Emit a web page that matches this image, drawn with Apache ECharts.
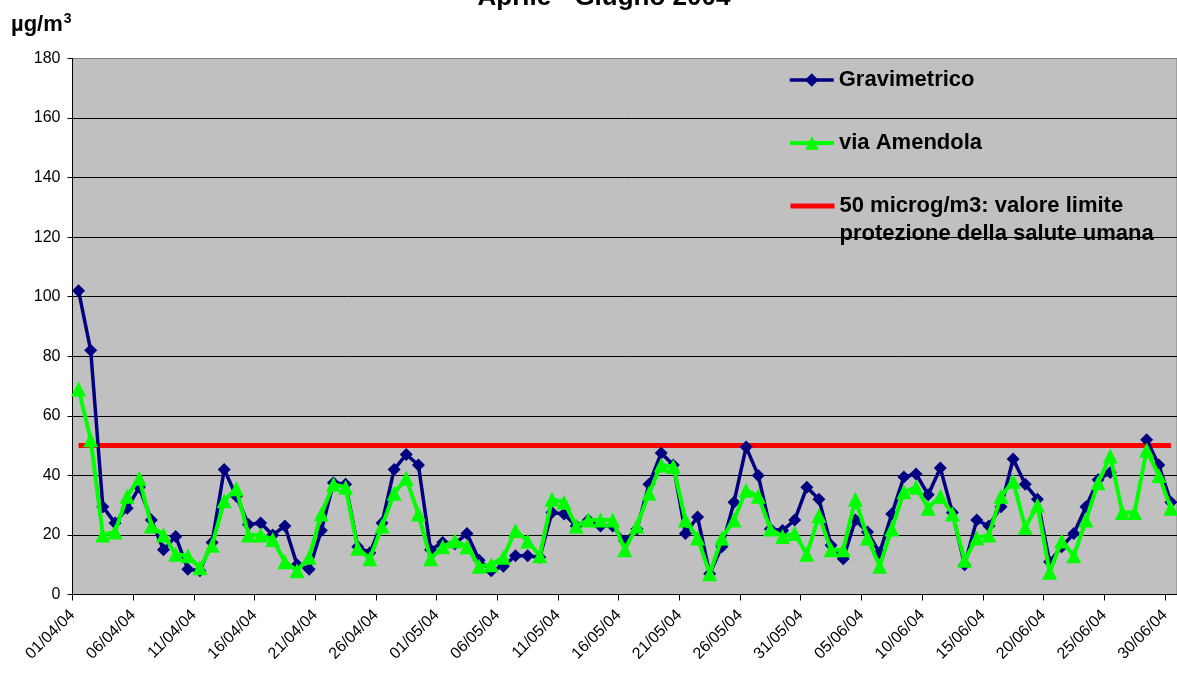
<!DOCTYPE html>
<html>
<head>
<meta charset="utf-8">
<title>PM10 Aprile - Giugno 2004</title>
<script src="https://cdn.jsdelivr.net/npm/echarts@6/dist/echarts.min.js"></script>
<style>
  html, body { margin: 0; padding: 0; background: #fff; }
  #chart { width: 1177px; height: 673px; }
</style>
</head>
<body>
<div id="chart"></div>
<script>
// Daily PM10 concentrations (µg/m3), 01/04/2004 - 30/06/2004, one value per day
const tickLabels = [
  '01/04/04', '06/04/04', '11/04/04', '16/04/04', '21/04/04', '26/04/04',
  '01/05/04', '06/05/04', '11/05/04', '16/05/04', '21/05/04', '26/05/04',
  '31/05/04', '05/06/04', '10/06/04', '15/06/04', '20/06/04', '25/06/04',
  '30/06/04'
];
const dayCount = 91;

// Gravimetric sampler (null = no measurement)
const gravimetrico = [
  102, 82, 29.5, 24, 29, 36, 25, 15, 19.5, 8.5,
  8, 17.5, 42, 33, 23.5, 24, 20, 23, 10, 8.5,
  21.5, 37.5, 37, 16, 14, 24, 42, 47, 43.5, 15,
  17.5, 17, 20.5, 11.5, 8, 9.5, 13, 13, 12.5, 27.5,
  27, 23, 25, 23, 23, 18, 22, 37, 47.5, 43.5,
  20.5, 26, 7, 16, 31, 49.5, 40, 22, 21.5, 25,
  36, 32, 16.5, 12, 25, 21, 14, 27, 39.5, 40.5,
  33.5, 42.5, 27.5, 10, 25, 23, 29.5, 45.5, 37, 32,
  11, 16, 20.5, 29.5, 38.5, 41, null, null, 52, 43.5,
  31
];

// Monitoring station via Amendola
const viaAmendola = [
  69, 52, 20, 21, 33, 39, 23, 20, 13.5, 13,
  9, 16.5, 31.5, 35.5, 20, 20, 18.5, 11, 8, 12.5,
  27, 37, 36, 15.5, 12, 23, 34, 39, 27, 12,
  16, 18, 16, 9.5, 10, 12.5, 21.5, 18, 13, 32,
  31, 23, 25, 25, 25, 15, 23, 34, 43.5, 43,
  25, 19, 7, 19, 25, 35, 33, 22, 19.5, 20.5,
  13.5, 26.5, 15, 15, 32, 19, 9.5, 22, 34.5, 36,
  29, 33, 27, 11.5, 19, 20, 33, 38, 22.5, 30,
  7.5, 18, 13, 25, 37.5, 46.5, 27.5, 27.5, 48.5, 40,
  29
];

// Daily limit value for the protection of human health
const limitValue = 50;

const seriesNames = [
  'Gravimetrico',
  'via Amendola',
  '50 microg/m3: valore limite\nprotezione della salute umana'
];

const FONT = '"Liberation Sans", Arial, Helvetica, sans-serif';

const toPoints = arr => arr.map((v, i) => [i, v === null ? '-' : v]);

const chart = echarts.init(document.getElementById('chart'), null, { renderer: 'canvas' });

const legendText = { fontFamily: FONT, fontSize: 22, fontWeight: 'bold', color: '#000', lineHeight: 28 };

chart.setOption({
  animation: false,
  backgroundColor: '#ffffff',
  textStyle: { fontFamily: FONT },
  title: [
    {
      text: 'Aprile - Giugno 2004',
      left: 599,
      top: -20,
      textAlign: 'center',
      textStyle: { fontFamily: FONT, fontSize: 26, fontWeight: 'bold', color: '#000' }
    },
    {
      text: '{u|µg/m}{s|3}',
      left: 6,
      top: 5,
      textStyle: {
        rich: {
          u: { fontFamily: FONT, fontSize: 22, fontWeight: 'bold', color: '#000', verticalAlign: 'bottom', lineHeight: 26 },
          s: { fontFamily: FONT, fontSize: 14, fontWeight: 'bold', color: '#000', verticalAlign: 'bottom', lineHeight: 26, padding: [0, 0, 10, 1] }
        }
      }
    }
  ],
  legend: [
    {
      data: [seriesNames[0]], left: 788, top: 66, padding: 0,
      itemWidth: 44, itemHeight: 17, selectedMode: false, textStyle: legendText,
      lineStyle: { width: 3.5 }
    },
    {
      data: [seriesNames[1]], left: 788, top: 129, padding: 0,
      itemWidth: 44, itemHeight: 17, selectedMode: false, textStyle: legendText,
      lineStyle: { width: 4 }
    },
    {
      // leading blank line keeps the first text line level with the red sample line
      data: [seriesNames[2]], left: 788, top: 164, padding: 0,
      itemWidth: 44, itemHeight: 17, selectedMode: false, textStyle: legendText,
      formatter: name => ' \n' + name,
      lineStyle: { width: 5 },
      itemStyle: { color: 'rgba(0,0,0,0)', borderWidth: 0 }
    }
  ],
  grid: {
    left: 72.5,
    right: -3.5,
    top: 58.5,
    bottom: 78.5,
    show: true,
    backgroundColor: '#c0c0c0',
    borderColor: '#808080',
    borderWidth: 1,
    containLabel: false
  },
  xAxis: {
    type: 'value',
    min: -0.5,
    max: dayCount - 0.5,
    interval: 5,
    axisLine: { show: true, onZero: false, lineStyle: { color: '#000', width: 1 } },
    axisTick: { show: true, length: 6, lineStyle: { color: '#000' } },
    splitLine: { show: false },
    axisLabel: {
      rotate: 45,
      margin: 18,
      fontFamily: FONT,
      fontSize: 16,
      color: '#000',
      showMaxLabel: false,
      formatter: function (value) {
        const k = (value + 0.5) / 5;
        if (Math.abs(k - Math.round(k)) > 1e-6) return '';
        return tickLabels[Math.round(k)] || '';
      }
    }
  },
  yAxis: {
    type: 'value',
    min: 0,
    max: 180,
    interval: 20,
    axisLine: { show: true, onZero: false, lineStyle: { color: '#000', width: 1 } },
    axisTick: { show: true, length: 5, lineStyle: { color: '#000' } },
    splitLine: {
      show: true,
      lineStyle: {
        color: ['#000', '#000', '#000', '#000', '#000', '#000', '#000', '#000', '#000', '#808080'],
        width: 1
      }
    },
    axisLabel: { margin: 12, fontFamily: FONT, fontSize: 16, color: '#000' }
  },
  series: [
    {
      name: seriesNames[2],
      type: 'line',
      data: [[0, limitValue], [dayCount - 1, limitValue]],
      symbol: 'none',
      lineStyle: { color: '#ff0000', width: 5 },
      itemStyle: { color: '#ff0000' },
      z: 2
    },
    {
      name: seriesNames[0],
      type: 'line',
      data: toPoints(gravimetrico),
      connectNulls: false,
      symbol: 'diamond',
      symbolSize: 13,
      showAllSymbol: true,
      lineStyle: { color: '#000080', width: 3.5 },
      itemStyle: { color: '#000080' },
      z: 3
    },
    {
      name: seriesNames[1],
      type: 'line',
      data: toPoints(viaAmendola),
      symbol: 'triangle',
      symbolSize: 15,
      showAllSymbol: true,
      lineStyle: { color: '#00ff00', width: 4 },
      itemStyle: { color: '#00ff00' },
      z: 4
    }
  ]
});
</script>
</body>
</html>
